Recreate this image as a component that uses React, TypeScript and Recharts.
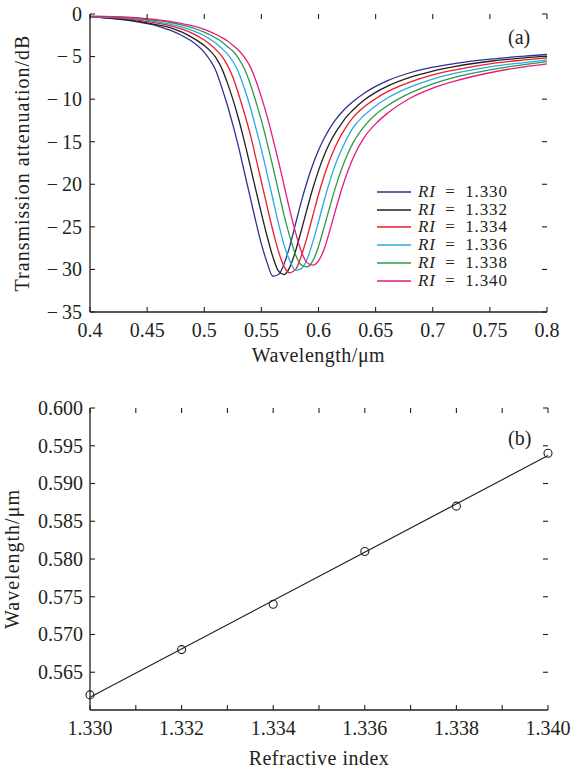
import React from "react";
import { Line, XAxis, YAxis, ComposedChart, Scatter, Label } from "recharts";

// (a) transmission spectra, one array per refractive index
const wavelengths = [
  0.4, 0.42, 0.44, 0.46, 0.47, 0.48, 0.49, 0.5, 0.505, 0.51, 0.515, 0.52, 0.525, 0.53, 0.535,
  0.54, 0.545, 0.55, 0.555, 0.56, 0.565, 0.57, 0.575, 0.58, 0.585, 0.59, 0.595, 0.6, 0.605,
  0.61, 0.615, 0.62, 0.625, 0.63, 0.64, 0.65, 0.66, 0.68, 0.7, 0.72, 0.75, 0.78, 0.8,
];
const ri1330 = [
  -0.3, -0.55, -0.9, -1.45, -1.9, -2.5, -3.3, -4.5, -5.4, -6.6, -8.5, -10.6, -13.0, -15.6, -18.5,
  -21.4, -24.3, -27.0, -29.2, -30.8, -30.6, -29.3, -27.2, -24.6, -22.0, -19.7, -17.7, -16.0, -14.6,
  -13.4, -12.4, -11.6, -10.9, -10.3, -9.3, -8.5, -7.85, -6.9, -6.25, -5.8, -5.3, -4.95, -4.75,
];
const ri1332 = [
  -0.3, -0.5, -0.8, -1.3, -1.6, -2.1, -2.8, -3.7, -4.3, -5.1, -6.3, -8.0, -10.0, -12.3, -14.9,
  -17.7, -20.6, -23.4, -26.1, -28.5, -30.2, -30.6, -29.7, -27.8, -25.4, -22.9, -20.5, -18.4, -16.6,
  -15.1, -13.9, -12.9, -12.0, -11.3, -10.1, -9.2, -8.5, -7.45, -6.7, -6.15, -5.55, -5.15, -4.95,
];
const ri1334 = [
  -0.3, -0.42, -0.68, -1.1, -1.37, -1.75, -2.3, -3.05, -3.55, -4.15, -4.9, -5.95, -7.4, -9.4, -11.6,
  -14.0, -16.8, -19.7, -22.6, -25.4, -27.9, -29.7, -30.4, -30.0, -28.4, -26.2, -23.7, -21.2, -19.0,
  -17.1, -15.5, -14.2, -13.1, -12.2, -10.9, -9.95, -9.15, -8.0, -7.15, -6.55, -5.85, -5.4, -5.15,
];
const ri1336 = [
  -0.3, -0.37, -0.58, -0.95, -1.2, -1.5, -1.95, -2.55, -2.95, -3.4, -4.0, -4.65, -5.55, -6.85, -8.7,
  -10.8, -13.3, -15.9, -18.8, -21.7, -24.6, -27.2, -29.0, -30.1, -29.9, -28.8, -26.8, -24.4, -21.9,
  -19.6, -17.6, -16.0, -14.6, -13.4, -11.9, -10.8, -9.9, -8.6, -7.65, -6.95, -6.2, -5.7, -5.4,
];
const ri1338 = [
  -0.28, -0.33, -0.5, -0.8, -1.0, -1.28, -1.63, -2.14, -2.44, -2.82, -3.22, -3.78, -4.35, -5.2, -6.4,
  -8.1, -10.2, -12.5, -15.1, -17.9, -20.8, -23.7, -26.2, -28.3, -29.5, -29.7, -29.0, -27.3, -25.0,
  -22.6, -20.3, -18.3, -16.6, -15.2, -13.2, -11.8, -10.8, -9.3, -8.2, -7.4, -6.55, -5.95, -5.6,
];
const ri1340 = [
  -0.25, -0.3, -0.42, -0.7, -0.86, -1.12, -1.4, -1.8, -2.08, -2.38, -2.74, -3.14, -3.66, -4.26, -5.04,
  -6.12, -7.74, -9.76, -12.0, -14.6, -17.3, -20.2, -23.1, -25.7, -27.9, -29.2, -29.5, -29.0, -27.6,
  -25.4, -23.0, -20.7, -18.7, -17.0, -14.5, -12.9, -11.7, -9.9, -8.7, -7.85, -6.9, -6.2, -5.85,
];
const wlTicks = [0.4, 0.45, 0.5, 0.55, 0.6, 0.65, 0.7, 0.75, 0.8];
const dbTicks = [0, -5, -10, -15, -20, -25, -30, -35];

// (b) resonance wavelength vs refractive index
const riValues = [1.33, 1.332, 1.334, 1.336, 1.338, 1.34];
const resonanceWl = [0.562, 0.568, 0.574, 0.581, 0.587, 0.594];
const fitRi = [1.33, 1.34];
const fitWl = [0.5617, 0.5937];
const riTicks = [1.33, 1.331, 1.332, 1.333, 1.334, 1.335, 1.336, 1.337, 1.338, 1.339, 1.34];
const resTicks = [0.565, 0.57, 0.575, 0.58, 0.585, 0.59, 0.595, 0.6];

const FONT = "'Liberation Serif', 'Times New Roman', serif";
const INK = "#231f20";

const series = [
  { key: "r1330", label: "1.330", color: "#2e3192", values: ri1330 },
  { key: "r1332", label: "1.332", color: "#231f20", values: ri1332 },
  { key: "r1334", label: "1.334", color: "#ed1c24", values: ri1334 },
  { key: "r1336", label: "1.336", color: "#27aae1", values: ri1336 },
  { key: "r1338", label: "1.338", color: "#2a9b48", values: ri1338 },
  { key: "r1340", label: "1.340", color: "#e6197f", values: ri1340 },
];

const spectrumRows = wavelengths.map((wl, i) => {
  const row: Record<string, number> = { wl };
  series.forEach((s) => (row[s.key] = s.values[i]));
  return row;
});
const pointRows = riValues.map((ri, i) => ({ ri, wl: resonanceWl[i] }));
const fitRows = fitRi.map((ri, i) => ({ ri, wl: fitWl[i] }));

const axisLine = { stroke: INK, strokeWidth: 1.3 };
const textStyle = { fill: INK, fontSize: 20, fontFamily: FONT };
const fmtDb = (v: number) => (v < 0 ? "\u2212\u2009" + Math.abs(v) : String(v));
const fmtWl = (v: number) => String(v);
const fmtRi = (v: number) => (Math.round(v * 1000) % 2 === 0 ? v.toFixed(3) : "");
const fmt3 = (v: number) => v.toFixed(3);

// tick labels only; the inward tick marks are drawn as small scatter shapes on the frame
const makeLabel = (side: string, fmt: (v: number) => string) => (p: any) => (
  <text x={p.x} y={p.y} dy={side === "bottom" ? "0.72em" : "0.34em"} textAnchor={side === "bottom" ? "middle" : "end"} style={textStyle}>
    {fmt(p.payload.value)}
  </text>
);

const TICK = 5;
const tickShape = (dx: number, dy: number) => (p: any) => (
  <line x1={p.cx} y1={p.cy} x2={p.cx + dx * TICK} y2={p.cy + dy * TICK} stroke={INK} strokeWidth={1.1} />
);
const frameTicks = (xKey: string, yKey: string, xTicks: number[], yTicks: number[], xDom: number[], yDom: number[]) => {
  const sides = [
    { id: "bottom", rows: xTicks.map((t) => ({ [xKey]: t, [yKey]: yDom[0] })), shape: tickShape(0, -1) },
    { id: "top", rows: xTicks.map((t) => ({ [xKey]: t, [yKey]: yDom[1] })), shape: tickShape(0, 1) },
    { id: "left", rows: yTicks.map((t) => ({ [xKey]: xDom[0], [yKey]: t })), shape: tickShape(1, 0) },
    { id: "right", rows: yTicks.map((t) => ({ [xKey]: xDom[1], [yKey]: t })), shape: tickShape(-1, 0) },
  ];
  return sides.map((s) => (
    <Scatter key={"ticks-" + s.id} xAxisId="b" yAxisId="l" data={s.rows} dataKey={yKey} shape={s.shape}
      isAnimationActive={false} legendType="none" />
  ));
};

const Circle = (p: any) => (
  <circle cx={p.cx} cy={p.cy} r={4} fill="none" stroke={INK} strokeWidth={1.1} />
);

export default function App() {
  return (
    <div style={{ position: "absolute", left: 0, top: 0, width: 579, height: 769, background: "#fff", fontFamily: FONT, color: INK }}>
      {/* panel (a) */}
      <div style={{ position: "absolute", left: 0, top: 0 }}>
        <ComposedChart width={579} height={370} data={spectrumRows} margin={{ top: 14, right: 32, bottom: 28, left: 0 }}>
          <XAxis xAxisId="b" dataKey="wl" type="number" domain={[0.4, 0.8]} ticks={wlTicks}
            height={30} tickSize={0} tickMargin={11} axisLine={axisLine} tickLine={false} tick={makeLabel("bottom", fmtWl)}>
            <Label value="Wavelength/μm" position="bottom" offset={6} style={{ ...textStyle, letterSpacing: 0.5 }} />
          </XAxis>
          <XAxis xAxisId="t" orientation="top" type="number" domain={[0.4, 0.8]} allowDataOverflow
            height={0} axisLine={axisLine} tickLine={false} tick={false} />
          <YAxis yAxisId="l" type="number" domain={[-35, 0]} ticks={dbTicks} width={90}
            tickSize={0} tickMargin={8} axisLine={axisLine} tickLine={false} tick={makeLabel("left", fmtDb)}>
            <Label value="Transmission attenuation/dB" angle={-90} position="insideLeft" offset={22}
              style={{ ...textStyle, letterSpacing: 1, textAnchor: "middle" }} />
          </YAxis>
          <YAxis yAxisId="r" orientation="right" type="number" domain={[-35, 0]} allowDataOverflow
            width={0} axisLine={axisLine} tickLine={false} tick={false} />
          {frameTicks("wl", "db", wlTicks, dbTicks, [0.4, 0.8], [-35, 0])}
          {series.map((s) => (
            <Line key={s.key} xAxisId="b" yAxisId="l" type="monotone" dataKey={s.key} name={s.label}
              stroke={s.color} strokeWidth={1.3} dot={false} activeDot={false} isAnimationActive={false} />
          ))}
        </ComposedChart>
        <div style={{ position: "absolute", left: 508, top: 25, fontSize: 20, lineHeight: "24px" }}>(a)</div>
        <div style={{ position: "absolute", left: 377, top: 182.7 }}>
          {series.map((s) => (
            <div key={s.key} style={{ display: "flex", alignItems: "center", height: 17.9, lineHeight: "17.9px", fontSize: 17, letterSpacing: 0.9, whiteSpace: "nowrap" }}>
              <svg width={34} height={2} style={{ marginRight: 7 }}>
                <line x1={0} y1={1} x2={34} y2={1} stroke={s.color} strokeWidth={1.5} />
              </svg>
              <span><i>RI</i>{"\u2002=\u2002"}{s.label}</span>
            </div>
          ))}
        </div>
      </div>

      {/* panel (b) */}
      <div style={{ position: "absolute", left: 0, top: 380 }}>
        <ComposedChart width={579} height={389} margin={{ top: 28, right: 31, bottom: 29, left: 0 }}>
          <XAxis xAxisId="b" dataKey="ri" type="number" domain={[1.33, 1.34]} ticks={riTicks}
            height={30} tickSize={0} tickMargin={11} axisLine={axisLine} tickLine={false} tick={makeLabel("bottom", fmtRi)}>
            <Label value="Refractive index" position="bottom" offset={11} style={{ ...textStyle, letterSpacing: 0.5 }} />
          </XAxis>
          <XAxis xAxisId="t" orientation="top" type="number" domain={[1.33, 1.34]} allowDataOverflow
            height={0} axisLine={axisLine} tickLine={false} tick={false} />
          <YAxis yAxisId="l" dataKey="wl" type="number" domain={[0.56, 0.6]} ticks={resTicks} width={90}
            tickSize={0} tickMargin={7} axisLine={axisLine} tickLine={false} tick={makeLabel("left", fmt3)}>
            <Label value="Wavelength/μm" angle={-90} position="insideLeft" offset={12}
              style={{ ...textStyle, letterSpacing: 1, textAnchor: "middle" }} />
          </YAxis>
          <YAxis yAxisId="r" orientation="right" type="number" domain={[0.56, 0.6]} allowDataOverflow
            width={0} axisLine={axisLine} tickLine={false} tick={false} />
          {frameTicks("ri", "wl", riTicks, resTicks, [1.33, 1.34], [0.56, 0.6])}
          <Line xAxisId="b" yAxisId="l" data={fitRows} dataKey="wl" type="linear" stroke={INK} strokeWidth={1.2}
            dot={false} activeDot={false} isAnimationActive={false} />
          <Scatter xAxisId="b" yAxisId="l" data={pointRows} dataKey="wl" shape={Circle} isAnimationActive={false} />
        </ComposedChart>
        <div style={{ position: "absolute", left: 508, top: 46, fontSize: 20, lineHeight: "24px" }}>(b)</div>
      </div>
    </div>
  );
}
